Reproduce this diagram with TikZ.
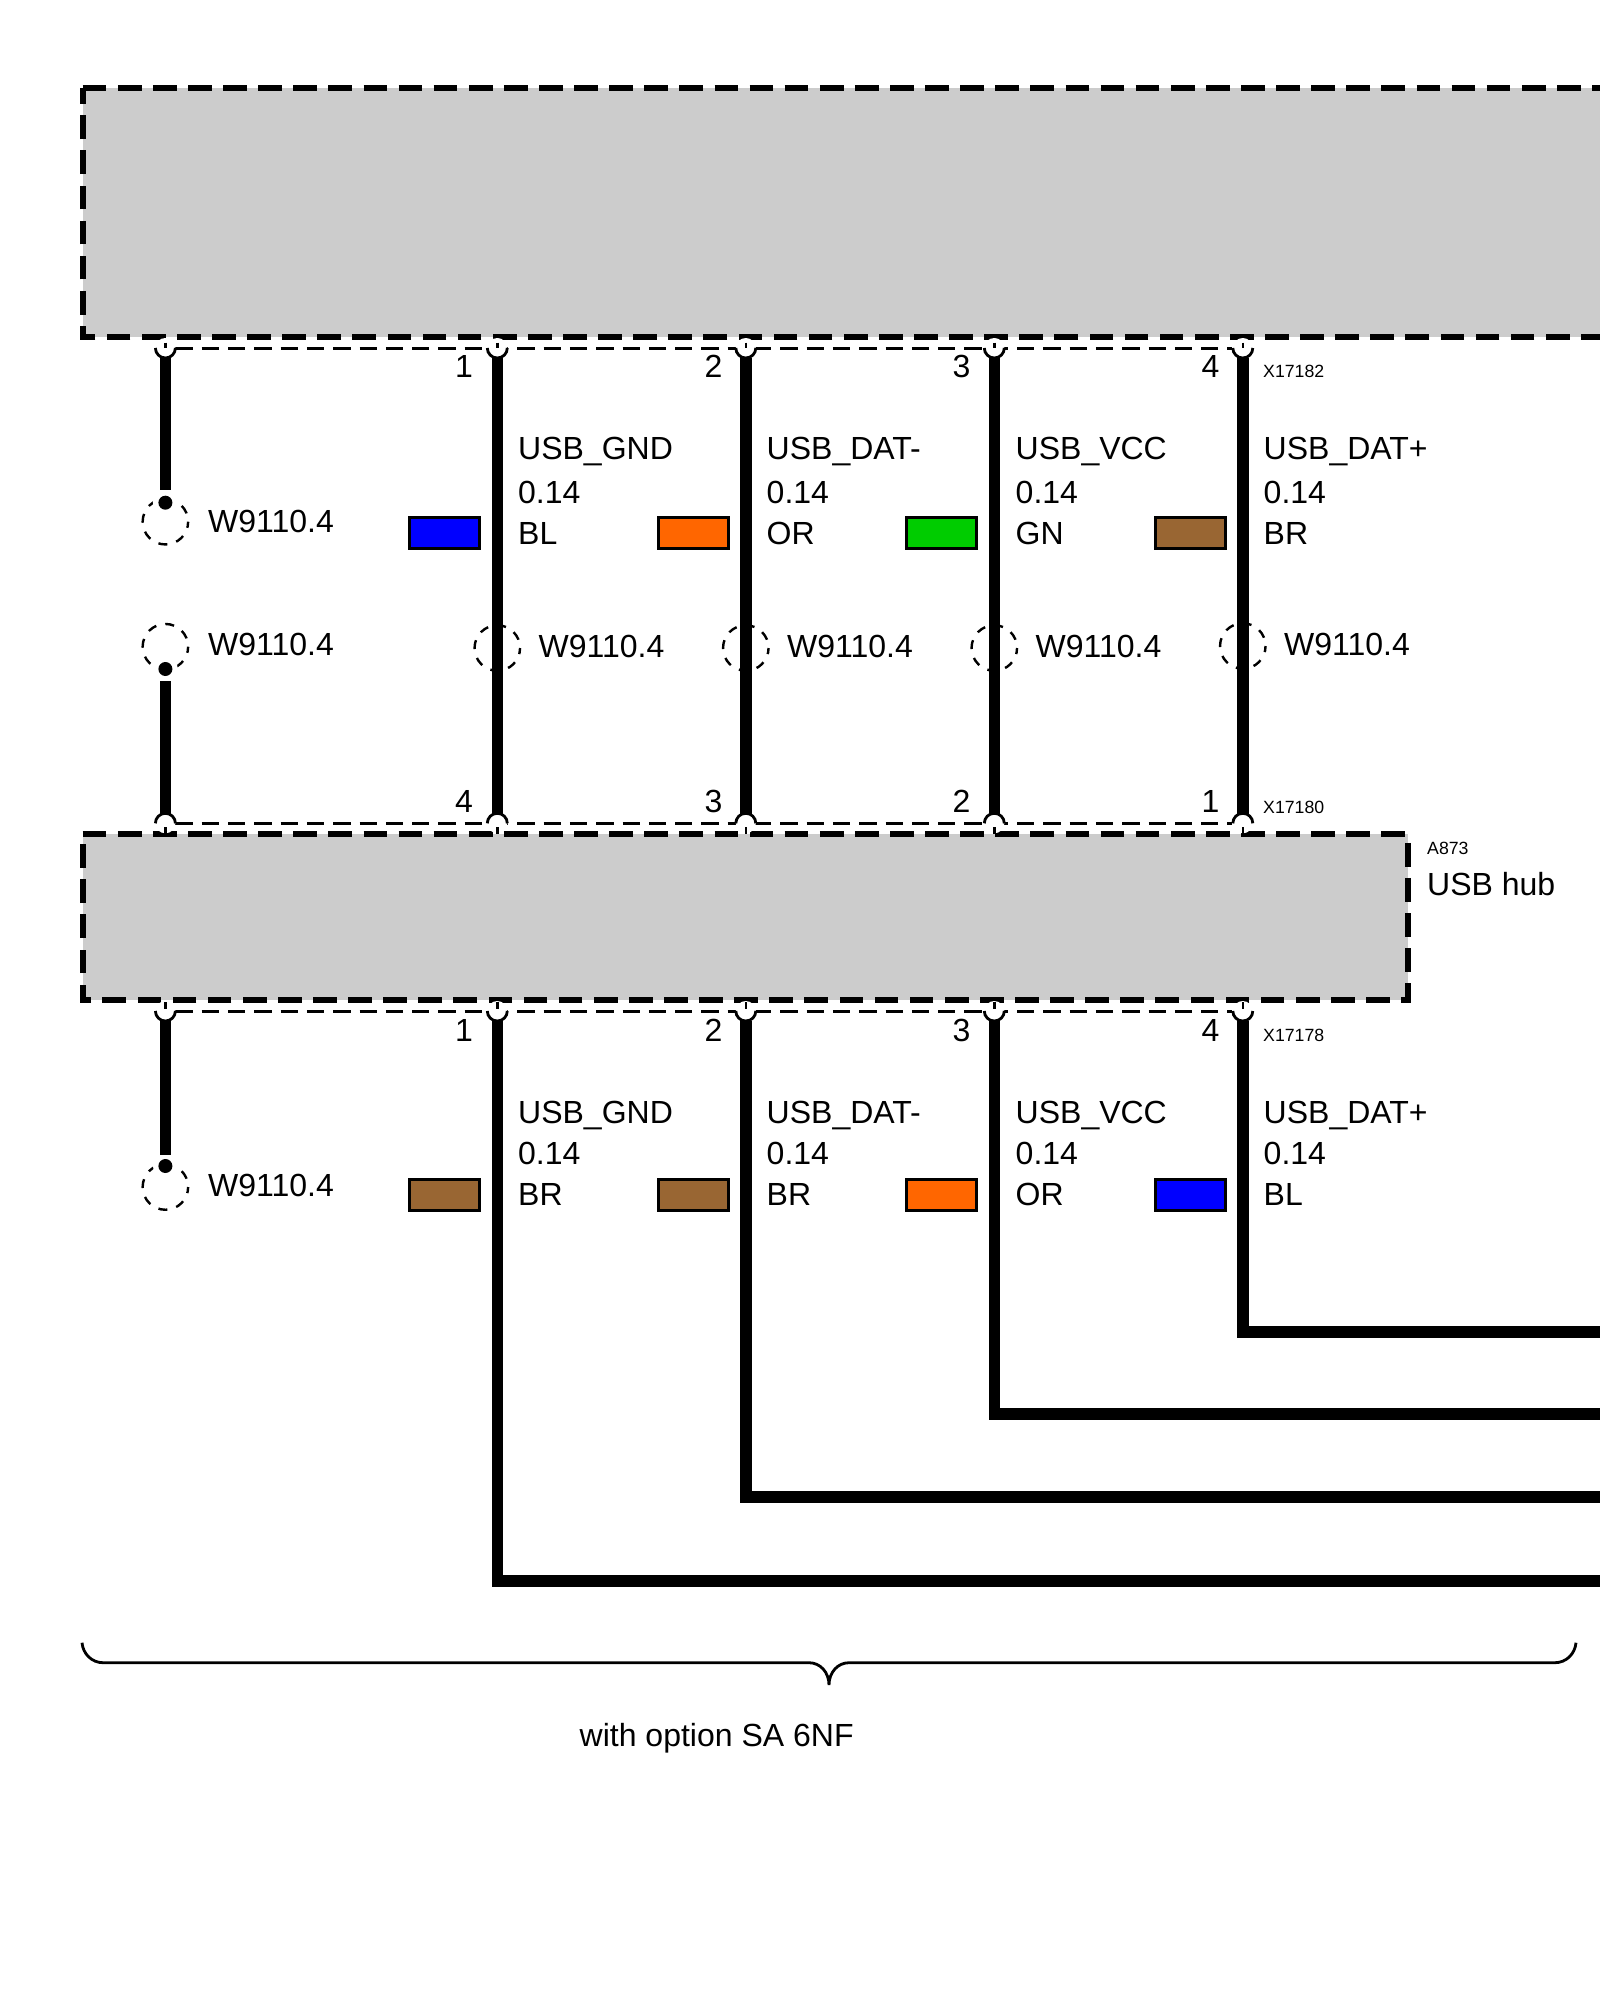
\documentclass[tikz,border=0pt]{standalone}
\usepackage{fontspec}
\setmainfont{Liberation Sans}
\definecolor{boxgray}{HTML}{CCCCCC}
\definecolor{cBL}{HTML}{0000FF}
\definecolor{cOR}{HTML}{FF6600}
\definecolor{cGN}{HTML}{00CC00}
\definecolor{cBR}{HTML}{996633}
\tikzset{
  thickdash/.style={line width=5.8pt,dash pattern=on 23.7pt off 11.4pt},
  thindash/.style={line width=3pt,dash pattern=on 17.3pt off 9pt},
  wire/.style={line width=11.5pt,miter limit=10},
  pinarc/.style={line width=2.8pt},
  stub/.style={line width=2.6pt},
  loopmark/.style={circle,draw,line width=2.4pt,dash pattern=on 9pt off 9.3pt,dash phase=9.8pt,minimum size=45.5pt,inner sep=0pt},
  dotmark/.style={circle,fill=black,minimum size=14pt,inner sep=0pt},
  dothalo/.style={circle,fill=white,minimum size=25pt,inner sep=0pt},
  swatch/.style={rectangle,draw,line width=3pt,minimum width=70pt,minimum height=31pt,inner sep=0pt},
  lab/.style={anchor=base west,inner sep=0pt,font=\fontsize{32}{38}\selectfont},
  pinno/.style={anchor=base east,inner sep=0pt,font=\fontsize{32}{38}\selectfont},
  tiny/.style={anchor=base west,inner sep=0pt,font=\fontsize{17.7}{20}\selectfont},
}
\begin{document}
\begin{tikzpicture}[x=1pt,y=-1pt]
\fill[white] (0,0) rectangle (1600,2000);
\clip (0,0) rectangle (1600,2000);
% boxes
\fill[boxgray] (82.7,88) rectangle (1610,337);
\draw[thickdash] (82.7,88) -- (1610,88);
\draw[thickdash,miter limit=10] (1604.6,337) -- (82.7,337) -- (82.7,88);
\node[rectangle,fill=boxgray,draw=none,inner sep=0pt,minimum width=1325.3pt,minimum height=165.7pt] (hub) at (745.35,917.15) {};
\draw[thickdash] (82.7,834.3) -- (1408,834.3) -- (1408,1000) -- (82.7,1000) -- cycle;
% thin dashed connector bars
\coordinate (barAl) at (175.4,348); \coordinate (barAr) at (1232,348);
\coordinate (barBl) at (175.4,823.3); \coordinate (barBr) at (1232,823.3);
\coordinate (barCl) at (175.4,1011); \coordinate (barCr) at (1232,1011);
\draw[thindash] (barAl) -- (barAr);
\draw[thindash] (barBl) -- (barBr);
\draw[thindash] (barCl) -- (barCr);
% pins
\foreach \n/\x in {0/165.4,1/497.3,2/745.8,3/994.3,4/1242.8}{
  \fill[white] (\x,348) circle (10);
  \fill[white] (\x,823.3) circle (10);
  \fill[white] (\x,1011) circle (10);
  \draw[stub] (\x,342.5) -- (\x,348);
  \draw[stub] (\x,827) -- (\x,834);
  \draw[stub] (\x,1002) -- (\x,1009);
  \draw[pinarc] (\x-10,348) arc[start angle=180,end angle=0,radius=10];
  \draw[pinarc] (\x-10,1011) arc[start angle=180,end angle=0,radius=10];
  \draw[pinarc] (\x-10,823.3) arc[start angle=180,end angle=360,radius=10];
}
% dashed loop marks on the through wires, then wires
\node[loopmark] (m1) at (497.3,648) {};
\node[loopmark] (m2) at (745.8,648) {};
\node[loopmark] (m3) at (994.3,648) {};
\node[loopmark] (m4) at (1242.8,646) {};
\foreach \n/\x in {1/497.3,2/745.8,3/994.3,4/1242.8}{
  \coordinate (wt\n) at (\x,357.5);
  \coordinate (wb\n) at (\x,814);
  \draw[wire] (wt\n) -- (wb\n);
}
\foreach \n/\x/\y in {1/497.3/1581,2/745.8/1497,3/994.3/1414,4/1242.8/1332}{
  \coordinate (lt\n) at (\x,1020.5);
  \coordinate (lc\n) at (\x,\y);
  \coordinate (lr\n) at (1610,\y);
  \draw[wire] (lt\n) -- (lc\n) -- (lr\n);
}
% left-hand wires with open ends
\node[loopmark] (a1) at (165.4,521.7) {};
\node[dothalo] at (165.4,502.7) {};
\node[dotmark] (d1) at (165.4,502.7) {};
\node[loopmark] (a2) at (165.4,646.7) {};
\node[dothalo] at (165.4,669) {};
\node[dotmark] (d2) at (165.4,669) {};
\node[loopmark] (a3) at (165.4,1187) {};
\node[dothalo] at (165.4,1166) {};
\node[dotmark] (d3) at (165.4,1166) {};
\coordinate (t1) at (165.4,357.5); \coordinate (e1) at (165.4,490);
\coordinate (t2) at (165.4,814); \coordinate (e2) at (165.4,681);
\coordinate (t3) at (165.4,1020.5); \coordinate (e3) at (165.4,1155);
\draw[wire] (t1) -- (e1);
\draw[wire] (t2) -- (e2);
\draw[wire] (t3) -- (e3);
% swatches
\node[swatch,fill=cBL] (s1) at (444.5,533.3) {};
\node[swatch,fill=cOR] (s2) at (693,533.3) {};
\node[swatch,fill=cGN] (s3) at (941.5,533.3) {};
\node[swatch,fill=cBR] (s4) at (1190,533.3) {};
\node[swatch,fill=cBR] (s5) at (444.5,1194.5) {};
\node[swatch,fill=cBR] (s6) at (693,1194.5) {};
\node[swatch,fill=cOR] (s7) at (941.5,1194.5) {};
\node[swatch,fill=cBL] (s8) at (1190,1194.5) {};
% wire labels, upper
\node[lab] (u1) at (518,459) {USB\_GND};
\node[lab] (u2) at (766.5,459) {USB\_DAT-};
\node[lab] (u3) at (1015.5,459) {USB\_VCC};
\node[lab] (u4) at (1263.5,459) {USB\_DAT+};
\foreach \n/\x/\c in {1/518/BL,2/766.5/OR,3/1015.5/GN,4/1263.5/BR}{
  \node[lab] (us\n) at (\x,503) {0.14};
  \node[lab] (uc\n) at (\x,544) {\c};
}
% wire labels, lower
\node[lab] (v1) at (518,1123.5) {USB\_GND};
\node[lab] (v2) at (766.5,1123.5) {USB\_DAT-};
\node[lab] (v3) at (1015.5,1123.5) {USB\_VCC};
\node[lab] (v4) at (1263.5,1123.5) {USB\_DAT+};
\foreach \n/\x/\c in {1/518/BR,2/766.5/BR,3/1015.5/OR,4/1263.5/BL}{
  \node[lab] (vs\n) at (\x,1164.5) {0.14};
  \node[lab] (vc\n) at (\x,1205.5) {\c};
}
% W labels
\node[lab] (w1) at (208,532.7) {W9110.4};
\node[lab] (w2) at (208,655) {W9110.4};
\node[lab] (w3) at (208,1196.5) {W9110.4};
\node[lab] (w4) at (538.5,657.5) {W9110.4};
\node[lab] (w5) at (787,657.5) {W9110.4};
\node[lab] (w6) at (1035.5,657.5) {W9110.4};
\node[lab] (w7) at (1284,655) {W9110.4};
% pin numbers
\foreach \n/\x/\t in {1/473/1,2/722.5/2,3/970.5/3,4/1219.5/4}{
  \node[pinno] (pa\n) at (\x,377.7) {\t};
  \node[pinno] (pc\n) at (\x,1041) {\t};
}
\node[pinno] (pb1) at (473,812.5) {4};
\node[pinno] (pb2) at (722.5,812.5) {3};
\node[pinno] (pb3) at (970.5,812.5) {2};
\node[pinno] (pb4) at (1219.5,812.5) {1};
% connector / device names
\node[tiny] (x1) at (1263,377) {X17182};
\node[tiny] (x2) at (1263,813) {X17180};
\node[tiny] (x3) at (1263,1041) {X17178};
\node[tiny] (x4) at (1427,854) {A873};
\node[lab] (hubname) at (1427,895) {USB hub};
% brace
\coordinate (bl) at (82,1642.7); \coordinate (bm) at (829,1685); \coordinate (br) at (1576,1642.7);
\draw[line width=2.8pt] (bl) .. controls (83,1654) and (92,1662.7) .. (103,1662.7) -- (809,1662.7)
  .. controls (820,1662.7) and (829,1672) .. (bm)
  .. controls (829,1672) and (838,1662.7) .. (849,1662.7) -- (1555,1662.7)
  .. controls (1566,1662.7) and (1575,1654) .. (br);
\node[lab] (opttext) at (579.5,1746) {with option SA 6NF};
\end{tikzpicture}
\end{document}
